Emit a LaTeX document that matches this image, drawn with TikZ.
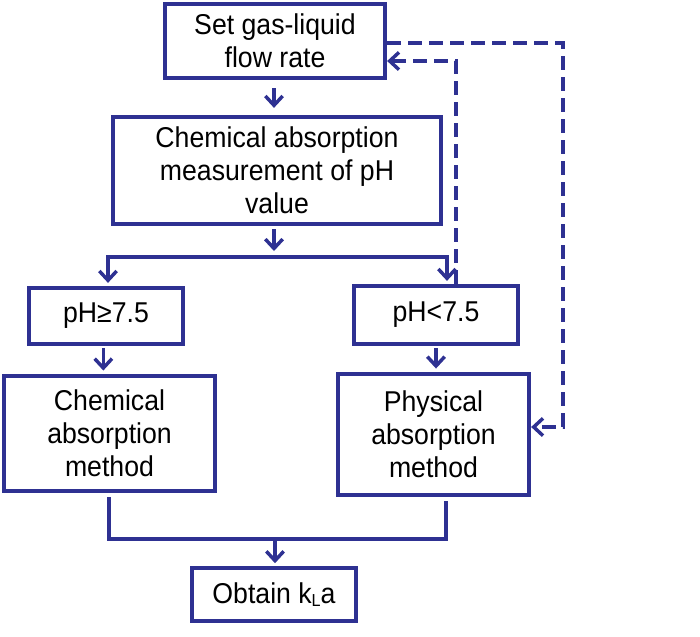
\documentclass[tikz,border=0pt]{standalone}
\usepackage{fontspec}
\setmainfont[FakeStretch=0.93]{Liberation Sans}
\usetikzlibrary{arrows.meta,calc}
\definecolor{fb}{RGB}{46,49,146}
\begin{document}
\begin{tikzpicture}[x=0.75pt,y=-0.75pt,
  >={Straight Barb[length=7pt,width=13pt]},
  box/.style={draw=fb,fill=white,line width=3.2pt,inner sep=0pt,align=center,
    font=\fontsize{21.5pt}{24.75pt}\selectfont},
  conn/.style={draw=fb,line width=2.6pt},
  dashline/.style={dash pattern=on 10.5pt off 5.25pt}]
\useasboundingbox (0,0) rectangle (700,636);
\node[box,minimum width=165pt,minimum height=55.5pt] (set) at (275,41) {Set gas-liquid\\flow rate};
\node[box,minimum width=246pt,minimum height=80.25pt] (chem) at (277,170.5) {Chemical absorption\\measurement of pH\\value};
\node[box,minimum width=115.5pt,minimum height=42pt] (ph1) at (106,316) {pH≥7.5};
\node[box,minimum width=123pt,minimum height=43.5pt] (ph2) at (436,315) {pH<7.5};
\node[box,minimum width=158.25pt,minimum height=86.25pt] (cm) at (109.5,433.5) {Chemical\\absorption\\method};
\node[box,minimum width=143.25pt,minimum height=90.75pt] (pm) at (433.5,434.5) {Physical\\absorption\\method};
\node[box,minimum width=123pt,minimum height=39.75pt] (obt) at (274,594.5) {Obtain k\raisebox{-0.25ex}{\fontsize{13pt}{13pt}\selectfont L}a};
\coordinate (bl) at (108,257);
\coordinate (br) at (447,257);
\coordinate (bm) at (274,257);
\coordinate (ml) at (109,539);
\coordinate (mr) at (446,539);
\coordinate (mm) at (275,539);
\coordinate (d1) at (456,61);
\coordinate (d2) at (563,43);
\coordinate (d3) at (563,427);
% solid connectors
\draw[conn,->,shorten <=6pt,shorten >=5.25pt] (set.south -| bm) -- (chem.north -| bm);
\draw[conn,->,shorten <=2.25pt,shorten >=4.5pt] (chem.south -| bm) -- (bm);
\draw[conn,<->,shorten <=2.25pt,shorten >=2.25pt] (ph1.north -| bl) |- (br) -- (ph2.north -| br);
\draw[conn,->,shorten <=1.5pt,shorten >=2.5pt] ([xshift=-2pt]ph1.south) -- ([xshift=-2pt]ph1.south |- cm.north);
\draw[conn,->,shorten <=1.5pt,shorten >=2.5pt] (ph2.south) -- (ph2.south |- pm.north);
\draw[conn,shorten <=3pt,shorten >=3pt] (cm.south -| ml) -- (ml) -- (mr) -- (pm.south -| mr);
\draw[conn,->,shorten >=2pt] (mm) -- (obt.north -| mm);
% dashed feedback
\draw[conn,dashline,->] (ph2.north -| d1) -- (d1) -- (d1 -| set.east);
\draw[conn,dashline,->] (set.east |- d2) -- (d2) -- (d3) -- (d3 -| pm.east);
\end{tikzpicture}
\end{document}
